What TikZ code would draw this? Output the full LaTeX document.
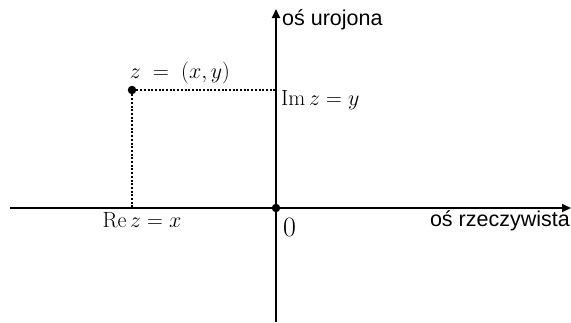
\RequirePackage{fix-cm}
\documentclass[tikz,border=0pt]{standalone}
\usepackage{fontspec}
\newfontfamily\axfont{Liberation Sans}
\usetikzlibrary{arrows.meta}
\begin{document}
\begin{tikzpicture}[x=1pt,y=-1pt,
  axis/.style={line width=2pt,-{Triangle[length=9pt,width=8pt]}},
  dotline/.style={line width=2.5pt,dash pattern=on 2pt off 1.7pt},
  dot/.style={circle,fill=black,inner sep=0pt,minimum size=8.5pt},
  mathlbl/.style={inner sep=1pt,font=\fontsize{22}{26}\selectfont},
  axlbl/.style={inner sep=1pt,font=\axfont\fontsize{21.5}{25}\selectfont}]
\useasboundingbox (0,0) rectangle (571,322);
\coordinate (xs) at (10,208);
\coordinate (xe) at (571,208);
\coordinate (ys) at (276,322);
\coordinate (ye) at (276,9);
\draw[axis] (xs) -- (xe);
\draw[axis] (ys) -- (ye);
\node[dot] (o) at (276,208) {};
\node[dot] (z) at (132,90) {};
\coordinate (im) at (276,90);
\coordinate (re) at (132,208);
\draw[dotline] (z) -- (im);
\draw[dotline] (z) -- (re);
\node[mathlbl] (zl) at (180,73) {$z\;=\;(x,y)$};
\node[mathlbl,anchor=west] (iml) at (280,100) {$\mathrm{Im}\,z=y$};
\node[mathlbl] (rel) at (142,220) {$\mathrm{Re}\,z=x$};
\node[inner sep=0pt,font=\fontsize{28}{32}\selectfont] (ol) at (289.5,227.5) {$0$};
\node[axlbl,anchor=base west] (yl) at (281,25) {oś urojona};
\node[axlbl,anchor=base east] (xl) at (571,226) {oś rzeczywista};
\end{tikzpicture}
\end{document}
